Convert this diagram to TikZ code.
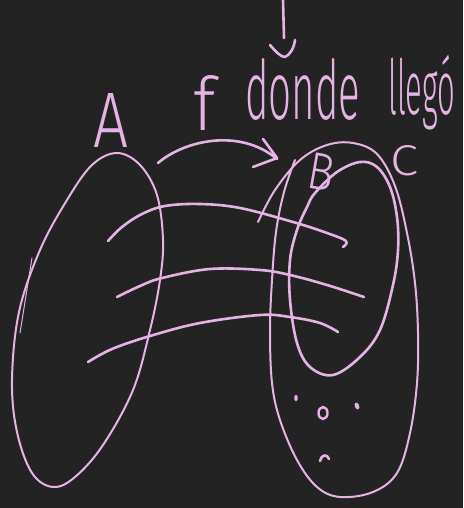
\documentclass[tikz,border=0pt]{standalone}
\usepackage{fontspec}
\newfontfamily\hand{Fira Sans Light}
\definecolor{bg}{RGB}{35,35,35}
\definecolor{chalk}{RGB}{230,180,228}
\tikzset{
  pen/.style={draw=chalk,line width=2.6pt,line cap=round,line join=round},
  thinpen/.style={draw=chalk,line width=2pt,line cap=round,line join=round},
  word/.style={text=chalk,inner sep=0pt,font=\hand}
}
\begin{document}
\begin{tikzpicture}[x=1pt,y=-1pt]
\fill[bg] (0,0) rectangle (463,508);
\useasboundingbox (0,0) rectangle (463,508);

% top arrow
\draw[pen] (283,0) -- (284,38);
\draw[pen] (270,45) .. controls (276,52) and (281,57) .. (285,57) .. controls (290,55) and (294,48) .. (295,40);

% texts
\node[word,anchor=north west] (tf) at (193,75) {\resizebox{22pt}{55pt}{f}};
\node[word,anchor=north west] (tdonde) at (245,58) {\resizebox{115pt}{61pt}{donde}};
\node[word,anchor=north west] (tllego) at (388,55) {\resizebox*{67pt}{75pt}{llegó}};
\node[word,anchor=north west] (tA) at (93,93) {\resizebox{35pt}{54pt}{A}};
\node[word,rotate=-10] (tB) at (321,172) {\resizebox{26pt}{36pt}{B}};
\node[word,anchor=north west] (tC) at (390,145) {\resizebox{28pt}{30pt}{C}};

% curved arrow f
\draw[pen] (158,163) .. controls (185,140) and (240,128) .. (277,159);
\draw[pen] (263,139) -- (277,158) -- (253,167);

% set A
\draw[thinpen] plot[smooth cycle,tension=0.6] coordinates {
 (117,153) (140,165) (157,195) (163,240) (160,280) (150,330) (133,390)
 (103,445) (75,477) (53,487) (32,473) (17,432) (12,380) (19,312)
 (40,250) (67,200) (92,165)};
\draw[chalk,line width=1pt,line cap=round] (32,258) -- (20,333);

% set C
\draw[thinpen] plot[smooth,tension=0.6] coordinates {
 (258,222) (275,190) (300,160) (327,145) (353,143) (377,154) (395,186)
 (407,233) (415,283) (418,333) (417,383) (410,433) (397,473) (373,492)
 (340,497) (317,487) (297,460) (280,420) (272,383) (270,330) (272,280)
 (276,232) (284,192) (295,160)};

% set B
\draw[pen] plot[smooth cycle,tension=0.6] coordinates {
 (315,193) (337,172) (360,162) (377,167) (390,187) (397,217) (398,250)
 (393,285) (380,330) (360,357) (333,375) (310,367) (297,343) (290,300)
 (290,260) (297,230) (307,207)};

% mapping lines
\draw[pen] plot[smooth,tension=0.6] coordinates {
 (108,241) (122,227) (142,214) (165,206) (200,204) (240,208) (293,222)
 (327,233) (346,241) (343,247)};
\draw[pen] plot[smooth,tension=0.6] coordinates {
 (117,297) (140,286) (162,278) (210,269) (260,270) (290,275) (327,285) (364,297)};
\draw[pen] plot[smooth,tension=0.6] coordinates {
 (88,362) (112,349) (150,336) (200,323) (260,315) (290,317) (320,323) (338,332)};

% dots
\fill[chalk] (296,398) ellipse [x radius=1.8pt, y radius=3.2pt];
\fill[chalk,rotate around={20:(357,406)}] (357,406) ellipse [x radius=2.2pt, y radius=3.6pt];
\draw[chalk,line width=2.4pt] (323,413) ellipse [x radius=4.5pt, y radius=6pt];
\draw[pen] (320,461) .. controls (321,455) and (327,453) .. (329,459);
\end{tikzpicture}
\end{document}
